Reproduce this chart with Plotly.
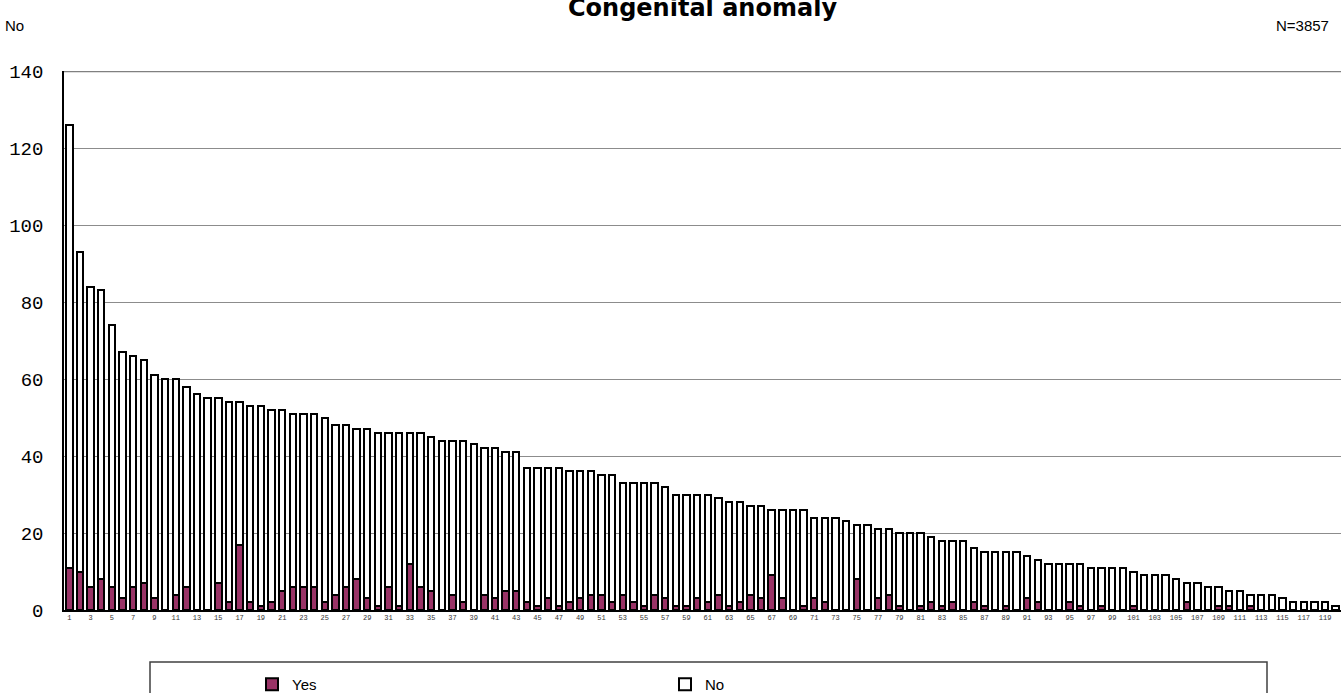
import plotly.graph_objects as go

categories = [str(i) for i in range(1, 121)]

yes_values = [
    11, 10, 6, 8, 6, 3, 6, 7, 3, 0,
    4, 6, 0, 0, 7, 2, 17, 2, 1, 2,
    5, 6, 6, 6, 2, 4, 6, 8, 3, 1,
    6, 1, 12, 6, 5, 0, 4, 2, 0, 4,
    3, 5, 5, 2, 1, 3, 1, 2, 3, 4,
    4, 2, 4, 2, 1, 4, 3, 1, 1, 3,
    2, 4, 1, 2, 4, 3, 9, 3, 0, 1,
    3, 2, 0, 0, 8, 0, 3, 4, 1, 0,
    1, 2, 1, 2, 0, 2, 1, 0, 1, 0,
    3, 2, 0, 0, 2, 1, 0, 1, 0, 0,
    1, 0, 0, 0, 0, 2, 0, 0, 1, 1,
    0, 1, 0, 0, 0, 0, 0, 0, 0, 0,
]

no_values = [
    115, 83, 78, 75, 68, 64, 60, 58, 58, 60,
    56, 52, 56, 55, 48, 52, 37, 51, 52, 50,
    47, 45, 45, 45, 48, 44, 42, 39, 44, 45,
    40, 45, 34, 40, 40, 44, 40, 42, 43, 38,
    39, 36, 36, 35, 36, 34, 36, 34, 33, 32,
    31, 33, 29, 31, 32, 29, 29, 29, 29, 27,
    28, 25, 27, 26, 23, 24, 17, 23, 26, 25,
    21, 22, 24, 23, 14, 22, 18, 17, 19, 20,
    19, 17, 17, 16, 18, 14, 14, 15, 14, 15,
    11, 11, 12, 12, 10, 11, 11, 10, 11, 11,
    9, 9, 9, 9, 8, 5, 7, 6, 5, 4,
    5, 3, 4, 4, 3, 2, 2, 2, 2, 1,
]

tick_labels = categories[::2]

fig = go.Figure()
fig.add_trace(go.Bar(
    x=categories, y=yes_values, name="Yes",
    marker=dict(color="#993366", line=dict(color="black", width=2)),
))
fig.add_trace(go.Bar(
    x=categories, y=no_values, name="No",
    marker=dict(color="white", line=dict(color="black", width=2)),
))

W, H = 1341, 693
L, R, T, B = 64, 0, 71, 83
pw = W - L - R
ph = H - T - B

def px_x(x):
    return (x - L) / pw

def px_y(y):
    return (H - B - y) / ph

fig.update_layout(
    width=W, height=H,
    barmode="stack", bargap=0.4,
    plot_bgcolor="white", paper_bgcolor="white",
    margin=dict(l=L, r=R, t=T, b=B, autoexpand=False),
    title=dict(
        text="<b>Congenital anomaly</b>",
        font=dict(family="DejaVu Sans", size=24, color="black"),
        x=0.5, xref="paper", xanchor="center",
        y=1 - 16 / H, yref="container", yanchor="bottom",
    ),
    xaxis=dict(
        type="category", range=[-0.5, 119.5],
        tickmode="array", tickvals=tick_labels, ticktext=tick_labels,
        tickangle=0,
        tickfont=dict(family="Liberation Mono", size=7, color="#333333"),
        showline=True, linecolor="black", linewidth=1.5,
        ticks="", showgrid=False, ticklabelstandoff=0,
    ),
    yaxis=dict(
        range=[0, 140], dtick=20, tick0=0,
        tickfont=dict(family="Liberation Mono", size=19, color="black"),
        showline=True, linecolor="black", linewidth=1.5,
        showgrid=True, gridcolor="#8c8c8c", gridwidth=1,
        zeroline=False, ticks="", ticklabelstandoff=15,
    ),
    showlegend=True,
    legend=dict(
        orientation="h", traceorder="normal",
        x=px_x(252), xanchor="left",
        y=1 - 668 / H, yref="container", yanchor="top",
        entrywidth=368, entrywidthmode="pixels",
        bgcolor="rgba(0,0,0,0)", borderwidth=0,
        font=dict(family="Liberation Sans", size=15, color="black"),
    ),
    shapes=[
        dict(type="line", xref="paper", yref="y", x0=0, x1=1, y0=140, y1=140,
             line=dict(color="#808080", width=2.5)),
        dict(type="rect", xref="paper", yref="paper",
             x0=px_x(150), x1=px_x(1267), y0=px_y(662), y1=px_y(720),
             line=dict(color="#404040", width=1.5), fillcolor="white", layer="below"),
    ],
    annotations=[
        dict(text="No", xref="paper", yref="paper", x=px_x(3), y=px_y(25),
             xanchor="left", yanchor="middle", showarrow=False,
             font=dict(family="Liberation Sans", size=15, color="black")),
        dict(text="N=3857", xref="paper", yref="paper", x=px_x(1331), y=px_y(25),
             xanchor="right", yanchor="middle", showarrow=False,
             font=dict(family="Liberation Sans", size=15, color="black")),
    ],
)

fig.write_html("out.html", post_script="document.body.style.margin='0px';",
               config={"displayModeBar": False})
